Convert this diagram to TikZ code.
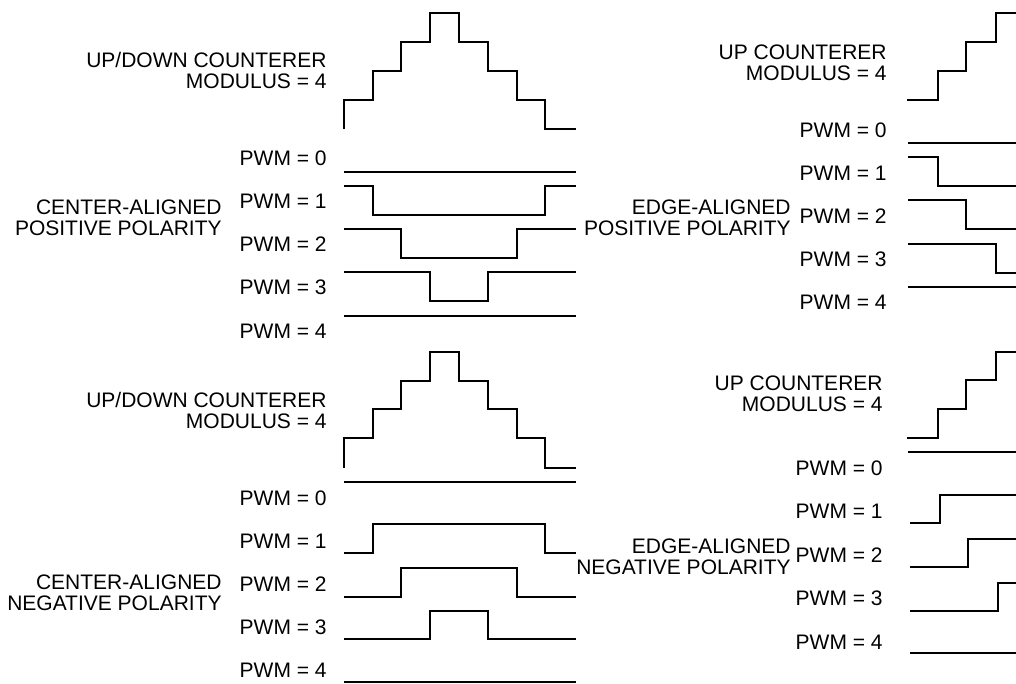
\documentclass[tikz,border=0pt]{standalone}
\usepackage{fontspec}
\setmainfont{Liberation Sans}
\begin{document}
\begin{tikzpicture}[x=0.5pt, y=-0.5pt,
                    wave/.style={line width=1.4pt},
                    lbl/.style={anchor=east, inner sep=0pt, font=\fontsize{10.5}{10.5}\selectfont},
                    ttl/.style={lbl, align=right}]
                    \useasboundingbox (0,0) rectangle (1016,684);
                    % Center-aligned, positive polarity
                    \node[ttl] (cptitle) at (327,70) {UP/DOWN COUNTERER\\MODULUS = 4};
                    \node[ttl] (cpmode) at (222,217.5) {CENTER-ALIGNED\\POSITIVE POLARITY};
                    \foreach \k in {0,...,4}
                        \node[lbl] (cppwm\k) at (327,158+43.25*\k) {PWM = \k};
                    \draw[wave] (344,129) |- (373,100) |- (401,71) |- (430,42) |- (459,13) |- (488,42) |- (517,71) |- (545,100) |- (576,129);
                    \draw[wave] (344,172) -- (576,172);
                    \draw[wave] (344,186) -| (373,215) -| (545,186) -- (576,186);
                    \draw[wave] (344,229) -| (401,258) -| (517,229) -- (576,229);
                    \draw[wave] (344,272) -| (430,301) -| (488,272) -- (576,272);
                    \draw[wave] (344,316) -- (576,316);
                    % Center-aligned, negative polarity
                    \node[ttl] (cntitle) at (327,410) {UP/DOWN COUNTERER\\MODULUS = 4};
                    \node[ttl] (cnmode) at (222,593) {CENTER-ALIGNED\\NEGATIVE POLARITY};
                    \foreach \k in {0,...,4}
                        \node[lbl] (cnpwm\k) at (327,498+43*\k) {PWM = \k};
                    \draw[wave] (344,468) |- (373,438) |- (401,409) |- (430,381) |- (459,352) |- (488,381) |- (517,409) |- (545,438) |- (576,468);
                    \draw[wave] (344,482) -- (576,482);
                    \draw[wave] (344,553) -| (373,524) -| (545,553) -- (576,553);
                    \draw[wave] (344,597) -| (401,568) -| (517,597) -- (576,597);
                    \draw[wave] (344,639) -| (430,611) -| (488,639) -- (576,639);
                    \draw[wave] (344,682) -- (576,682);
                    % Edge-aligned, positive polarity
                    \node[ttl] (eptitle) at (887,62.5) {UP COUNTERER\\MODULUS = 4};
                    \node[ttl] (epmode) at (791,217.5) {EDGE-ALIGNED\\POSITIVE POLARITY};
                    \foreach \k in {0,...,4}
                        \node[lbl] (eppwm\k) at (887,130+43*\k) {PWM = \k};
                    \draw[wave] (907,100) -| (938,71) -| (966,42) -| (996,13) -- (1016,13);
                    \draw[wave] (908,143) -- (1016,143);
                    \draw[wave] (908,157) -| (938,186) -- (1016,186);
                    \draw[wave] (908,200) -| (966,229) -- (1016,229);
                    \draw[wave] (908,244) -| (996,273) -- (1016,273);
                    \draw[wave] (908,287) -- (1016,287);
                    % Edge-aligned, negative polarity
                    \node[ttl] (entitle) at (883,393.5) {UP COUNTERER\\MODULUS = 4};
                    \node[ttl] (enmode) at (791,557) {EDGE-ALIGNED\\NEGATIVE POLARITY};
                    \foreach \k in {0,...,4}
                        \node[lbl] (enpwm\k) at (883,468+43.5*\k) {PWM = \k};
                    \draw[wave] (907,438) -| (938,409) -| (966,380) -| (996,352) -- (1016,352);
                    \draw[wave] (908,452) -- (1016,452);
                    \draw[wave] (910,523) -| (940,495) -- (1016,495);
                    \draw[wave] (910,567) -| (968,539) -- (1016,539);
                    \draw[wave] (910,611) -| (998,583) -- (1016,583);
                    \draw[wave] (910,653) -- (1016,653);
                \end{tikzpicture}
\end{document}
